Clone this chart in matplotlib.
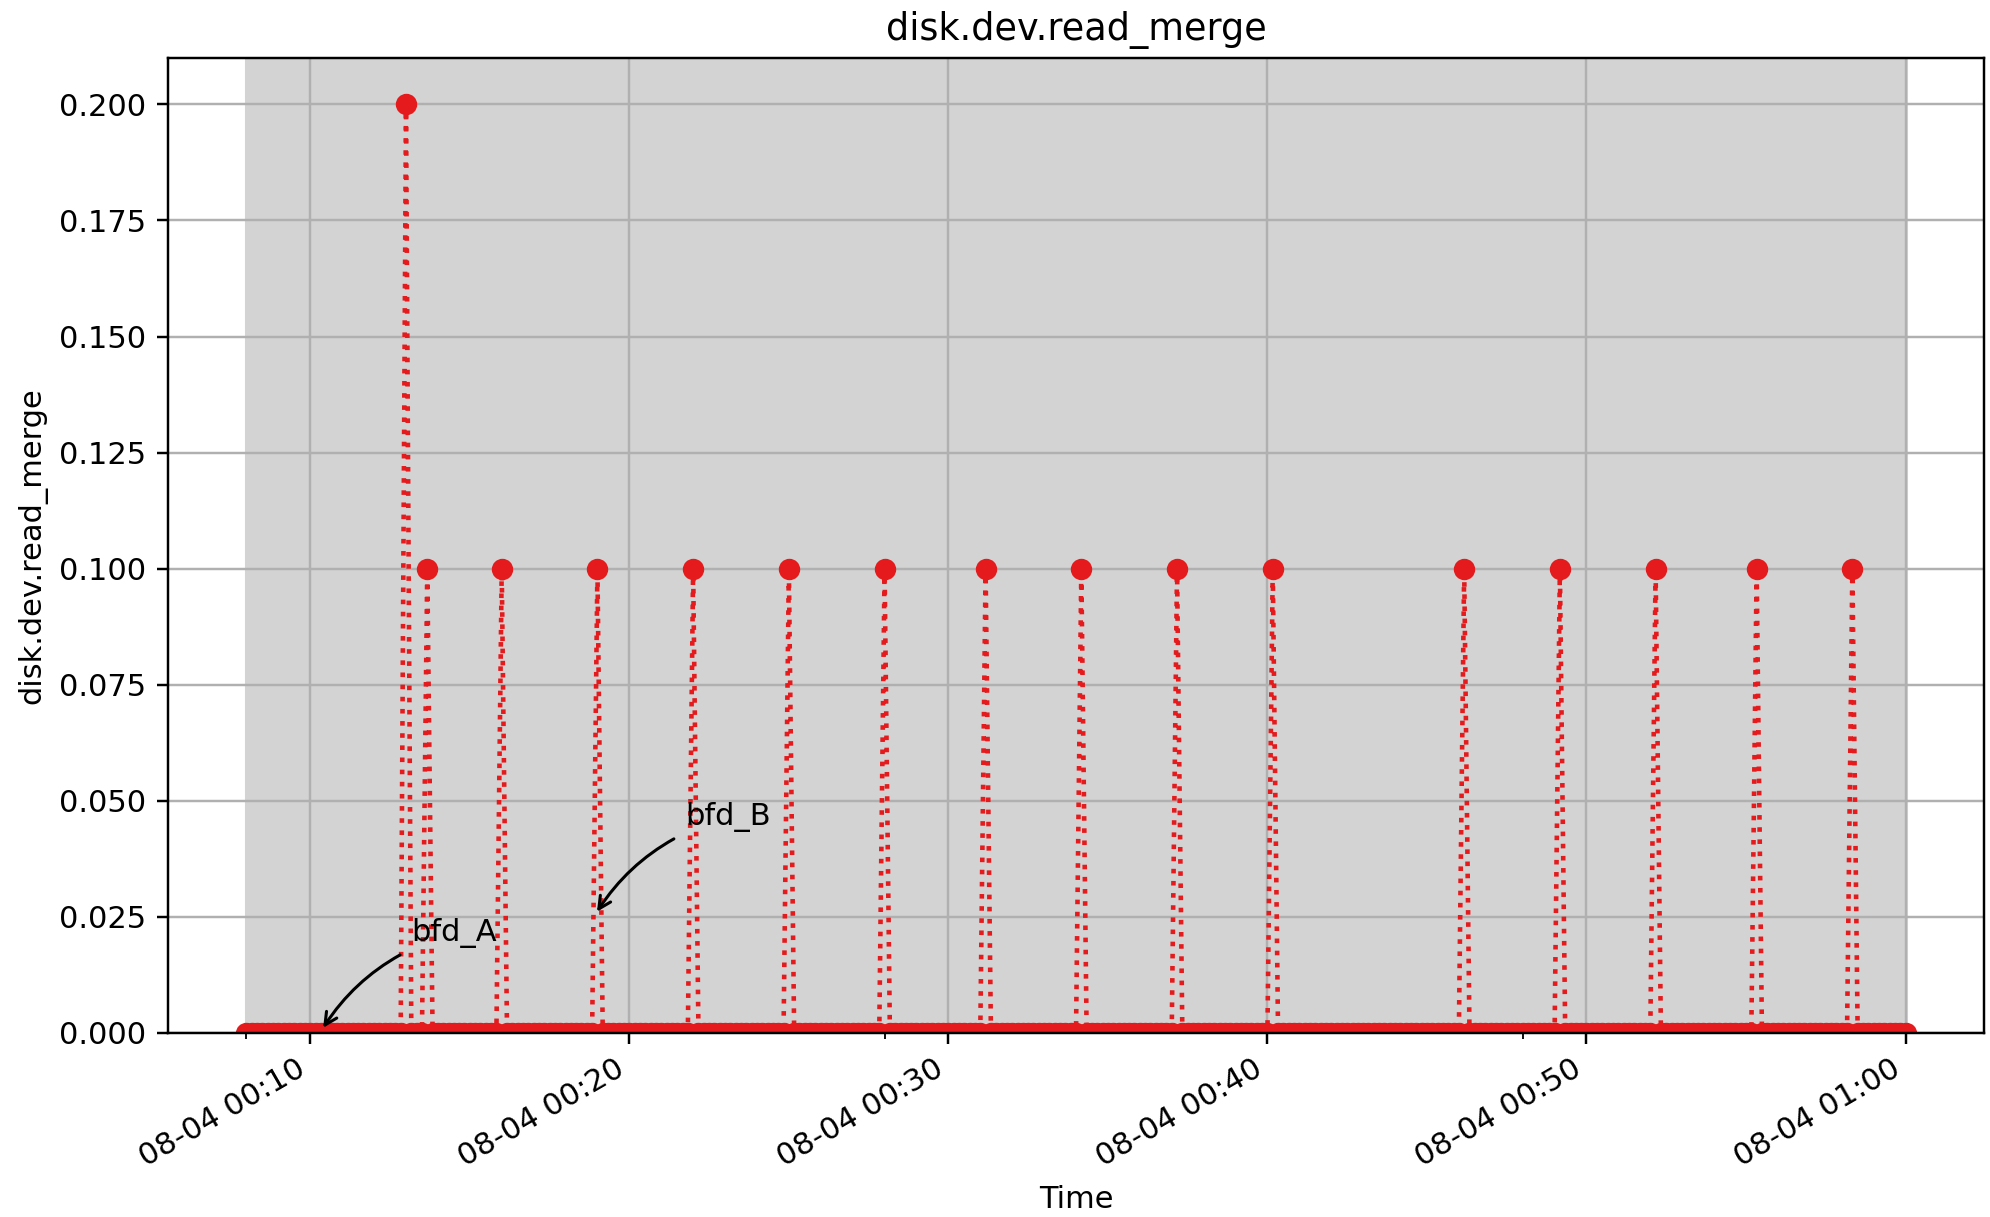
import matplotlib
matplotlib.use('Agg')
import matplotlib.pyplot as plt
import matplotlib.dates as mdates
from matplotlib.ticker import FixedLocator
import pandas as pd
import numpy as np

# ---- data ----
day = '2024-08-04'
start_time = '00:08:00'
end_time = '01:00:00'
sample_interval = '10s'
spike_times = ['00:13:00', '00:13:40', '00:16:00', '00:19:00', '00:22:00',
               '00:25:00', '00:28:00', '00:31:10', '00:34:10', '00:37:10',
               '00:40:10', '00:46:10', '00:49:10', '00:52:10', '00:55:20',
               '00:58:20']
spike_values = [0.2, 0.1, 0.1, 0.1, 0.1,
                0.1, 0.1, 0.1, 0.1, 0.1,
                0.1, 0.1, 0.1, 0.1, 0.1,
                0.1]
annot_labels = ['bfd_A', 'bfd_B']
annot_times = ['00:10:18', '00:18:53']
annot_values = [0.0, 0.025]
title = 'disk.dev.read_merge'
xlabel = 'Time'
ylabel = 'disk.dev.read_merge'

# ---- build series ----
times = pd.date_range(f'{day} {start_time}', f'{day} {end_time}', freq=sample_interval)
series = pd.Series(0.0, index=times)
for t, v in zip(spike_times, spike_values):
    series.loc[pd.Timestamp(f'{day} {t}')] = v

W, H, DPI = 1990, 1217, 220
fig = plt.figure(figsize=(W / DPI, H / DPI), dpi=DPI)
left, right, top, bottom = 168, 1984, 58, 1033
ax = fig.add_axes([left / W, 1 - bottom / H, (right - left) / W, (bottom - top) / H])

red = '#e41a1c'
ax.axvspan(times[0], times[-1], color='#d3d3d3', zorder=1)
ax.plot(series.index, series.values, color=red, linestyle=':', linewidth=1.5,
        marker='o', markersize=6, zorder=2)

ax.grid(True)
ax.set_xmargin(0.0473)
ax.set_ylim(bottom=0)

ax.xaxis.set_major_locator(mdates.MinuteLocator(byminute=[0, 10, 20, 30, 40, 50]))
ax.xaxis.set_major_formatter(mdates.DateFormatter('%m-%d %H:%M'))
minor_pos = pd.date_range(times[0], times[-1], freq='20min')
ax.xaxis.set_minor_locator(FixedLocator(mdates.date2num(minor_pos.to_pydatetime())))
for lab in ax.get_xticklabels():
    lab.set_rotation(30)
    lab.set_ha('right')

for lab, t, v in zip(annot_labels, annot_times, annot_values):
    ax.annotate(lab, xy=(mdates.date2num(pd.Timestamp(f'{day} {t}').to_pydatetime()), v),
                xytext=(30, 30), textcoords='offset points',
                arrowprops=dict(arrowstyle='->', connectionstyle='arc3,rad=0.2', color='black'))

ax.set_title(title)
ax.set_xlabel(xlabel)
ax.set_ylabel(ylabel)

fig.savefig('out.png', dpi=DPI)
